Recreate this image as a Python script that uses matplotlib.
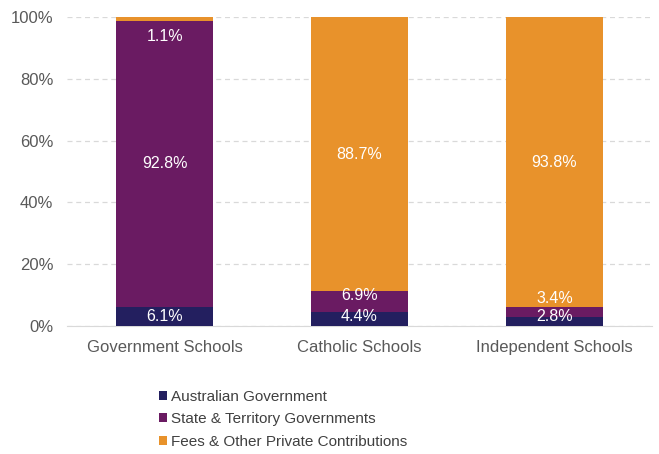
import numpy as np
import matplotlib.pyplot as plt

plt.rcParams['font.family'] = ['Liberation Sans', 'DejaVu Sans']

# stacked shares by school sector (%)
categories = ['Government Schools', 'Catholic Schools', 'Independent Schools']
series_names = ['Australian Government', 'State & Territory Governments',
                'Fees & Other Private Contributions']
aus_gov = [6.1, 4.4, 2.8]
state_gov = [92.8, 6.9, 3.4]
private = [1.1, 88.7, 93.8]
colors = ['#231f5f', '#6a1b62', '#e8922b']

fig = plt.figure(figsize=(6.59, 4.54), dpi=100)
ax = fig.add_axes([0.102, 0.282, 0.887, 0.68])

x = np.arange(len(categories))
width = 0.5
bottom = np.zeros(len(categories))
bars = []
for name, vals, c in zip(series_names, [aus_gov, state_gov, private], colors):
    vals = np.array(vals)
    # fill to 100% like an Excel 100% stacked column
    if name == series_names[-1]:
        vals = 100 - bottom
    ax.bar(x, vals, width, bottom=bottom, color=c, label=name, zorder=3)
    bars.append((vals, bottom.copy()))
    bottom = bottom + vals

# data labels, nudged apart where segments are thin
shown = [aus_gov, state_gov, private]
for s, (vals, bot) in enumerate(bars):
    for i in range(len(categories)):
        v = shown[s][i]
        y = bot[i] + vals[i] / 2
        if vals[i] < 8:
            if s == 0:
                y = max(y, 3.1)
            elif s == 1:
                y = max(bot[i] + vals[i] - 1.4, 8.9)
        if s == 2 and vals[i] < 5:
            y = 100 - 6.3
        ax.text(x[i], y, f'{v:.1f}%', ha='center', va='center',
                color='white', fontsize=11.5, zorder=4)

ax.set_ylim(0, 100)
ax.set_xlim(-0.5, 2.5)
ax.set_yticks(np.arange(0, 101, 20))
ax.set_yticklabels([f'{t}%' for t in range(0, 101, 20)])
ax.set_xticks(x)
ax.set_xticklabels(categories)
ax.tick_params(axis='both', length=0, labelsize=12, colors='#595959')
ax.tick_params(axis='x', pad=10)
ax.tick_params(axis='y', pad=10)
ax.yaxis.grid(True, color='#d9d9d9', linestyle=(0, (4, 3)), linewidth=0.9, zorder=0)
for side in ['top', 'right', 'left']:
    ax.spines[side].set_visible(False)
ax.spines['bottom'].set_color('#d9d9d9')

fig.legend(loc='upper left', bbox_to_anchor=(0.232, 0.155), frameon=False,
           fontsize=11, handlelength=0.55, handleheight=0.55, handletextpad=0.25,
           labelspacing=0.55, labelcolor='#404040', borderaxespad=0)

fig.savefig('out.png', dpi=100)
